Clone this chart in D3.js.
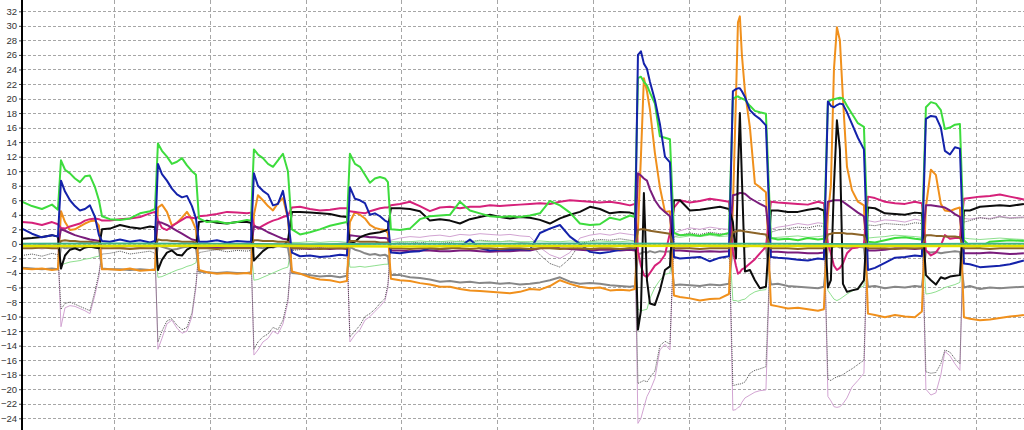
<!DOCTYPE html>
<html><head><meta charset="utf-8">
<script src="https://cdn.jsdelivr.net/npm/d3@7"></script>
<style>html,body{margin:0;padding:0;background:#fff;overflow:hidden}svg{display:block}</style>
</head><body>
<svg id="chart" width="1024" height="430"></svg>
<script>
// time (s)
const T = [
 0.40,1.44,2.48,3.53,4.15,
 4.47,4.89,5.41,5.93,6.45,6.97,7.49,8.02,8.43,8.75,
 9.58,10.63,11.67,12.72,13.76,14.28,
 14.59,15.01,15.53,16.05,16.58,17.10,17.62,18.14,18.56,18.87,
 19.71,20.75,21.80,22.84,23.89,24.30,
 24.61,25.03,25.55,26.08,26.60,27.12,27.64,28.16,28.58,
 29.42,30.46,31.50,32.55,33.59,34.32,
 34.63,35.16,35.68,36.20,36.72,37.24,37.77,38.29,38.60,38.91,
 39.85,40.90,41.94,42.98,44.03,45.07,46.12,47.16,48.20,49.25,50.29,51.34,52.38,53.42,54.47,55.51,56.56,57.60,58.64,59.69,60.73,61.78,62.82,63.86,64.38,
 64.70,65.01,65.32,65.64,65.95,66.47,66.99,67.52,68.04,68.46,
 69.08,70.13,71.17,72.21,73.26,74.20,
 74.61,74.93,75.14,75.34,75.55,75.87,76.39,76.91,77.43,78.06,78.58,
 79.31,80.35,81.40,82.44,83.49,84.11,
 84.53,84.84,85.16,85.47,85.78,86.10,86.52,87.04,87.66,88.29,88.71,
 89.44,90.48,91.53,92.57,93.61,94.34,
 94.76,95.28,95.80,96.32,96.74,97.27,97.79,98.31,98.73,
 99.35,100.40,101.44,102.48,103.53,104.99
];
const green = [
 5.8,5.2,4.8,5.4,4.7,
 11.5,10.2,9.7,9.0,8.5,9.3,9.4,7.8,6.0,3.8,
 3.4,3.3,3.5,4.2,4.5,4.8,
 13.8,12.8,12.0,11.0,11.3,11.8,10.8,10.0,9.5,3.5,
 3.0,3.1,2.8,3.0,3.3,3.2,
 13.0,12.3,11.8,11.0,10.6,11.5,12.4,10.0,2.0,
 1.3,1.6,2.0,2.5,2.8,3.0,
 12.4,11.0,10.6,9.5,8.4,9.0,9.2,9.0,8.5,2.0,
 1.9,2.1,3.4,3.8,3.9,4.0,5.8,4.6,4.2,3.8,3.7,3.8,3.7,3.9,4.2,5.9,5.3,4.3,2.8,2.6,2.7,3.6,3.3,3.9,3.7,
 22.8,23.0,22.3,21.8,20.8,19.3,14.8,14.6,14.4,1.5,
 1.2,1.3,1.1,1.4,1.2,1.5,
 20.0,20.2,20.3,20.1,20.0,19.8,19.0,18.3,18.1,17.9,0.8,
 0.6,0.7,0.5,0.8,0.6,0.7,
 19.5,19.8,19.9,20.0,20.1,20.0,19.0,17.9,16.6,16.1,0.3,
 0.2,0.5,0.8,0.9,0.7,0.6,
 18.8,19.5,19.3,18.4,15.8,16.0,16.4,16.5,0.5,
 -0.3,-0.4,0.3,0.4,0.5,0.4
];
const blue = [
 2.1,1.4,0.9,1.2,1.0,
 8.7,7.2,6.0,5.2,4.6,4.8,5.3,3.7,1.2,0.4,
 0.3,0.6,0.3,0.5,0.2,0.4,
 11.0,9.6,8.7,7.6,6.8,6.4,6.6,5.2,3.5,0.3,
 0.3,0.5,0.2,0.4,0.3,0.3,
 9.7,8.0,7.3,6.8,5.3,5.5,7.3,3.6,-1.2,
 -1.7,-1.6,-1.8,-1.7,-1.5,-1.6,
 7.8,6.2,6.0,5.6,4.0,4.2,3.8,3.2,3.0,-1.2,
 -1.3,-1.1,-1.0,-0.6,-0.7,-0.6,-0.4,0.6,-0.6,-0.9,-0.8,-0.8,-0.7,-0.8,1.5,2.1,2.6,1.0,0.0,-1.1,-1.3,-1.1,-0.8,-0.6,-0.7,
 26.0,26.5,24.8,24.1,22.3,19.8,16.5,12.0,11.2,-1.8,
 -2.0,-1.9,-1.8,-2.4,-1.9,-1.7,
 21.0,21.3,21.4,21.4,21.0,20.2,18.4,17.7,17.2,16.3,-1.8,
 -1.9,-2.0,-2.2,-2.3,-2.0,-2.1,
 19.6,19.0,18.8,19.1,19.3,19.2,18.1,16.5,14.6,13.0,-3.6,
 -3.3,-2.6,-1.9,-1.8,-1.6,-1.7,
 17.2,17.6,17.5,16.0,12.8,12.3,13.3,13.1,-2.7,
 -2.8,-3.2,-3.1,-3.0,-2.8,-2.3
];
const orange = [
 -3.4,-3.5,-3.4,-3.6,-3.5,
 4.5,3.0,1.9,2.0,2.4,2.8,3.1,3.2,2.5,-3.5,
 -3.5,-3.6,-3.4,-3.7,-3.6,-3.6,
 5.0,5.4,4.4,2.5,2.9,3.6,4.4,3.3,2.0,-3.6,
 -3.9,-4.1,-4.0,-4.1,-4.0,-4.1,
 4.0,6.7,6.0,5.2,4.6,5.6,6.3,3.5,-3.8,
 -4.1,-4.6,-4.9,-5.0,-5.3,-5.1,
 3.0,4.4,4.0,3.5,2.6,2.2,2.0,1.9,1.5,-4.8,
 -5.0,-5.1,-5.4,-5.6,-5.9,-5.9,-6.2,-6.4,-6.5,-6.6,-6.7,-6.8,-6.6,-6.2,-6.3,-5.8,-5.0,-5.5,-5.9,-6.1,-6.0,-6.4,-6.3,-6.4,-6.2,
 2.0,12.0,22.8,21.0,18.5,12.5,7.8,4.4,4.5,-7.1,
 -7.3,-7.5,-7.8,-7.6,-7.5,-6.9,
 5.0,20.0,30.5,31.3,26.0,21.0,16.0,8.3,7.8,7.1,-8.4,
 -8.6,-8.9,-8.8,-9.0,-9.2,-9.0,
 4.0,8.0,24.0,29.8,28.0,20.0,10.6,7.4,5.8,5.3,-9.6,
 -9.8,-10.1,-9.8,-10.0,-10.1,-9.3,
 5.1,10.2,9.5,5.5,4.6,4.5,4.8,5.0,-10.1,
 -10.3,-10.5,-10.4,-10.2,-10.0,-9.8
];
const magenta = [
 3.0,2.9,2.6,3.0,2.7,
 2.2,2.1,2.4,2.6,2.8,3.2,3.4,3.5,3.4,3.2,
 3.2,3.4,3.5,3.7,4.2,4.4,
 3.3,2.2,1.9,2.4,2.9,3.3,3.7,3.6,3.5,3.8,
 3.9,4.1,4.4,4.3,4.2,4.3,
 2.6,2.1,2.5,2.9,3.2,3.4,3.7,3.9,5.0,
 5.1,4.8,4.6,4.7,4.9,4.9,
 4.5,4.4,4.3,4.2,4.5,4.7,4.9,5.0,5.0,5.3,
 5.5,5.8,5.2,4.5,5.0,5.1,4.9,5.1,5.1,5.3,5.2,5.3,5.4,5.5,5.6,5.5,5.8,6.0,5.9,5.8,5.7,5.8,5.6,5.3,5.5,
 -1.0,-3.0,-4.3,-4.6,-4.0,-3.0,-2.5,-1.5,1.5,5.0,
 6.0,5.7,5.9,6.2,6.0,5.8,
 -1.0,-3.0,-4.1,-3.9,-3.5,-3.3,-2.7,-2.1,-1.3,-0.4,5.8,
 5.7,5.6,5.5,5.4,5.8,5.6,
 0.0,-1.3,-3.0,-3.6,-3.3,-2.7,-1.3,-0.6,-0.5,0.0,6.5,
 6.3,5.8,5.6,5.5,5.8,5.6,
 -0.9,-1.6,-1.2,-0.2,1.2,0.7,0.8,0.8,6.2,
 6.3,6.5,6.6,6.8,6.5,6.1
];
const black = [
 0.7,0.8,0.95,1.2,1.0,
 -3.4,-1.6,-0.8,-0.6,-0.9,-0.5,-0.4,-0.5,-0.6,2.0,
 2.1,2.6,2.3,2.1,2.4,2.3,
 -3.6,-2.2,-1.2,-0.9,-1.5,-1.6,-0.8,-0.4,-0.6,3.0,
 3.2,2.9,2.8,3.0,3.0,2.9,
 -2.3,-1.7,-1.0,-0.5,-0.4,-0.2,-0.3,0.4,4.4,
 4.4,4.3,4.2,4.1,3.8,3.7,
 0.0,0.3,0.9,1.2,1.4,1.5,1.6,1.8,2.0,4.9,
 4.9,4.8,4.5,3.2,3.4,3.2,2.8,3.4,3.7,4.0,3.7,3.5,3.7,3.6,3.3,2.8,3.5,4.0,4.4,5.1,4.8,4.2,4.4,4.3,4.1,
 -11.8,-9.2,7.0,-5.0,-8.2,-8.4,-6.4,-3.6,-3.1,6.0,
 6.0,4.6,4.7,4.9,5.1,4.8,
 3.0,-2.0,10.0,18.0,9.0,-3.8,-3.6,-5.0,-6.1,-5.9,4.6,
 4.6,4.4,4.4,4.7,4.9,4.6,
 -6.0,-5.0,8.0,17.0,13.0,-5.5,-6.6,-6.4,-6.2,-5.0,5.0,
 4.9,4.2,4.1,4.0,4.3,4.2,
 -4.3,-5.0,-5.6,-4.6,-4.8,-4.5,-4.4,-4.3,4.6,
 4.6,5.1,5.2,5.3,5.2,5.5
];
const purple = [
 -0.2,-0.3,-0.2,-0.3,-0.2,
 2.0,1.8,1.5,1.2,1.0,0.8,0.6,0.5,0.4,-0.3,
 -0.3,-0.4,-0.3,-0.4,-0.3,-0.4,
 3.0,2.9,2.6,2.2,1.8,1.4,1.0,0.6,0.5,-0.4,
 -0.4,-0.5,-0.4,-0.5,-0.4,-0.5,
 2.4,2.3,2.0,1.6,1.3,1.0,0.7,0.6,-0.6,
 -0.6,-0.7,-0.6,-0.7,-0.6,-0.7,
 1.2,1.1,1.0,1.0,0.9,0.9,0.8,0.8,0.7,-0.9,
 -0.9,-1.0,-0.9,-0.9,-1.0,-1.0,-0.9,-0.9,-1.0,-1.1,-1.0,-1.0,-0.9,-0.9,-0.6,-0.4,-0.6,-0.7,-0.8,-0.9,-0.8,-0.8,-0.9,-0.8,-0.9,
 9.7,9.4,9.0,8.7,7.5,6.0,5.0,4.4,3.8,-0.9,
 -0.9,-1.0,-1.1,-1.0,-1.1,-1.0,
 6.7,6.8,6.9,7.0,7.0,6.9,6.3,5.9,5.5,5.1,-1.1,
 -1.1,-1.2,-1.2,-1.3,-1.3,-1.2,
 5.8,5.9,6.0,6.0,6.0,5.8,5.4,4.9,4.3,3.8,-0.9,
 -0.9,-0.8,-0.6,-0.6,-0.7,-0.6,
 5.3,5.3,5.2,5.1,5.0,4.6,4.1,3.7,-1.3,
 -1.3,-1.3,-1.2,-1.3,-1.4,-1.3
];
const gray = [
 -3.3,-3.4,-3.5,-3.4,-3.5,
 -0.4,-0.6,-0.5,-0.6,-0.4,-0.5,-0.3,-0.5,-0.6,-3.4,
 -3.5,-3.5,-3.6,-3.5,-3.6,-3.5,
 -0.2,-0.4,-0.6,-0.8,-0.7,-0.5,-0.4,-0.3,-0.5,-3.8,
 -3.9,-4.0,-3.9,-4.0,-4.0,-3.9,
 -0.2,-0.5,-0.6,-0.4,-0.5,-0.3,-0.4,-0.5,-4.0,
 -4.1,-4.3,-4.5,-4.4,-4.6,-4.4,
 -0.4,-0.8,-1.0,-1.3,-1.5,-1.4,-1.6,-1.5,-1.7,-4.3,
 -4.3,-4.6,-4.7,-4.9,-5.2,-5.1,-5.3,-5.2,-5.4,-5.3,-5.5,-5.4,-5.6,-5.5,-5.3,-5.0,-4.6,-5.2,-5.5,-5.4,-5.5,-5.7,-5.8,-5.9,-5.8,
 -1.5,-1.3,-1.1,-1.2,-1.0,-1.2,-1.0,-1.1,-1.0,-5.7,
 -5.6,-5.7,-5.8,-5.6,-5.7,-5.5,
 -0.3,-0.2,-0.3,-0.2,-0.3,-0.4,-0.3,-0.2,-0.3,-0.4,-5.6,
 -5.5,-5.8,-5.9,-6.0,-6.1,-5.9,
 -0.3,-0.5,-0.4,-0.3,-0.5,-0.4,-0.6,-0.5,-0.4,-0.5,-5.9,
 -5.8,-6.1,-5.9,-6.0,-5.8,-5.9,
 -1.0,-1.2,-1.1,-1.3,-1.2,-1.1,-1.0,-1.1,-6.0,
 -5.8,-6.2,-6.0,-6.1,-6.0,-5.9
];
const palePink = [
 -0.6,-0.5,-0.7,-0.5,-0.6,
 -11.4,-8.8,-8.5,-8.6,-8.9,-9.2,-9.6,-7.0,-4.5,-0.5,
 -0.4,-0.6,-0.3,-0.5,-0.4,-0.5,
 -14.5,-13.0,-11.0,-10.5,-11.6,-12.3,-12.0,-10.0,-6.0,-0.4,
 -0.5,-0.3,-0.6,-0.4,-0.5,-0.4,
 -15.3,-14.6,-13.5,-13.0,-12.0,-12.4,-11.0,-8.0,-0.5,
 -0.4,-0.3,-0.2,-0.1,0.1,0.2,
 -13.5,-12.5,-11.8,-10.5,-10.0,-9.3,-8.6,-7.8,-6.0,0.5,
 0.8,1.0,0.9,1.1,1.2,1.0,1.3,1.2,1.4,1.3,1.2,1.3,1.1,1.0,-0.5,-1.5,-2.0,-1.2,0.8,1.2,1.4,1.2,1.5,1.3,1.2,
 -24.7,-24.0,-22.5,-21.0,-20.2,-18.5,-14.6,-13.8,-14.6,1.5,
 1.8,2.2,2.0,2.3,2.1,2.0,
 -22.9,-22.8,-22.5,-22.4,-21.8,-21.2,-20.8,-20.4,-20.2,-20.1,2.0,
 2.3,2.5,2.8,2.6,2.9,2.8,
 -21.0,-21.6,-22.4,-22.5,-22.4,-22.0,-21.2,-19.7,-18.8,-17.8,3.2,
 3.0,3.3,3.2,3.0,3.4,3.2,
 -20.0,-20.8,-20.5,-18.0,-14.8,-15.4,-16.5,-17.4,3.5,
 3.4,3.6,3.5,3.8,3.6,3.7
];
const darkDotted = [
 -1.6,-1.4,-1.7,-1.3,-1.5,
 -9.0,-8.2,-8.0,-8.3,-8.6,-8.9,-9.2,-6.5,-4.0,-1.4,
 -1.3,-1.0,-1.4,-1.2,-1.0,-1.3,
 -13.5,-12.0,-10.6,-10.3,-11.2,-11.8,-11.5,-9.5,-5.5,-1.2,
 -1.0,-0.8,-1.1,-0.9,-1.0,-0.9,
 -14.5,-13.5,-12.8,-12.4,-11.5,-11.8,-10.5,-7.5,-0.9,
 -0.8,-0.6,-0.5,-0.4,-0.3,-0.2,
 -12.8,-12.0,-11.2,-10.0,-9.6,-9.0,-8.2,-7.5,-5.5,0.0,
 0.2,0.3,0.1,0.4,0.3,0.2,0.4,0.3,0.5,0.4,0.3,0.4,0.2,0.1,-1.5,-2.7,-3.2,-2.0,0.0,0.4,0.6,0.5,0.7,0.5,0.4,
 -19.2,-19.0,-18.8,-19.0,-18.4,-17.5,-14.0,-13.4,-13.8,1.0,
 1.2,1.5,1.3,1.6,1.4,1.3,
 -19.5,-19.4,-19.3,-19.3,-19.2,-19.0,-17.8,-17.4,-17.2,-16.9,1.6,
 1.9,2.1,2.3,2.2,2.5,2.4,
 -18.6,-18.8,-18.5,-18.3,-18.2,-18.0,-17.6,-17.2,-16.6,-16.0,2.6,
 2.5,2.8,2.7,2.6,2.9,2.8,
 -17.6,-17.8,-17.7,-16.5,-14.6,-14.9,-15.8,-16.5,3.0,
 3.2,3.6,3.4,3.7,3.5,3.6
];
const lightGreen = [
 -0.4,-0.3,-0.4,-0.3,-0.4,
 -2.9,-2.7,-2.5,-2.4,-2.3,-2.1,-2.0,-1.8,-1.7,-0.3,
 -0.3,-0.2,-0.3,-0.2,-0.3,-0.2,
 -4.6,-4.5,-4.2,-3.9,-3.6,-3.4,-3.1,-2.9,-2.6,-0.2,
 -0.2,-0.3,-0.2,-0.3,-0.2,-0.3,
 -5.0,-4.9,-4.6,-4.3,-4.0,-3.7,-3.4,-3.2,0.2,
 0.2,0.3,0.2,0.3,0.3,0.2,
 -3.2,-3.2,-3.1,-3.2,-3.1,-3.0,-2.9,-2.8,-2.8,0.3,
 0.3,0.3,0.4,0.3,0.3,0.4,0.3,0.3,0.4,0.3,0.3,0.4,0.3,0.3,0.4,0.3,0.3,0.4,0.3,0.3,0.4,0.3,0.3,0.4,0.3,
 -9.0,-9.2,-9.1,-9.0,-7.5,-6.0,-5.0,-4.2,-4.0,1.0,
 0.9,1.1,1.0,1.2,1.0,1.1,
 -7.8,-7.8,-7.9,-7.8,-7.7,-7.6,-7.0,-6.6,-6.4,-6.3,0.8,
 0.9,1.0,1.1,0.9,1.0,1.1,
 -6.4,-7.0,-7.6,-7.8,-7.6,-7.3,-6.9,-6.5,-6.1,-5.8,0.8,
 0.9,1.0,1.2,1.1,1.0,0.9,
 -6.9,-6.8,-6.6,-6.3,-6.0,-5.8,-5.6,-5.3,0.8,
 0.7,0.6,0.7,0.8,0.7,0.6
];
const brown = [
 -0.6,-0.6,-0.5,-0.6,-0.6,
 0.4,0.5,0.4,0.4,0.3,0.3,0.3,0.2,0.2,-0.6,
 -0.6,-0.6,-0.7,-0.6,-0.6,-0.6,
 0.6,0.5,0.5,0.4,0.4,0.3,0.3,0.3,0.2,-0.6,
 -0.6,-0.7,-0.6,-0.6,-0.6,-0.6,
 0.5,0.5,0.4,0.4,0.4,0.3,0.3,0.3,-0.6,
 -0.6,-0.6,-0.7,-0.6,-0.6,-0.6,
 0.4,0.4,0.3,0.3,0.3,0.3,0.2,0.2,0.2,-0.6,
 -0.6,-0.7,-0.6,-0.6,-0.7,-0.6,-0.6,-0.7,-0.6,-0.6,-0.7,-0.6,-0.6,-0.7,-0.6,-0.6,-0.7,-0.6,-0.6,-0.7,-0.6,-0.6,-0.7,-0.6,-0.6,
 1.9,2.0,2.0,1.9,1.8,1.7,1.6,1.5,1.4,-0.6,
 -0.6,-0.6,-0.7,-0.6,-0.6,-0.6,
 1.6,1.7,1.8,1.8,1.8,1.7,1.6,1.5,1.4,1.3,-0.6,
 -0.6,-0.6,-0.7,-0.6,-0.6,-0.6,
 1.3,1.4,1.5,1.5,1.5,1.5,1.4,1.4,1.3,1.2,-0.6,
 -0.6,-0.6,-0.7,-0.6,-0.6,-0.6,
 1.2,1.2,1.1,1.1,1.0,1.0,1.0,0.9,-0.6,
 -0.6,-0.6,-0.7,-0.6,-0.6,-0.6
];
const tFlat = [0.4, 10, 20, 30, 40, 50, 60, 70, 80, 90, 100, 105];
const yellowVals = [-0.3, -0.3, -0.25, -0.3, -0.35, -0.3, -0.3, -0.25, -0.3, -0.3, -0.3, -0.3];
const tealVals = [0.0, 0.05, 0.0, -0.05, 0.0, 0.0, 0.05, 0.0, 0.0, -0.05, 0.0, 0.0];
const yTicks = d3.range(-24, 33, 2);
const xGrid = d3.range(10, 101, 10);

const W = 1024, H = 430;
const svg = d3.select('#chart');
const x = d3.scaleLinear().domain([0.4, 105]).range([22, 1024]);
const y = d3.scaleLinear().domain([-24, 32]).range([418.3, 11.3]);

svg.append('rect').attr('width', W).attr('height', H).attr('fill', '#fff');
svg.append('defs').append('clipPath').attr('id', 'clip')
  .append('rect').attr('x', 22).attr('y', 0).attr('width', W - 22).attr('height', H);

// grid
const grid = svg.append('g');
grid.selectAll('line.h').data(yTicks).join('line')
  .attr('x1', 23).attr('x2', W)
  .attr('y1', d => Math.round(y(d)) + 0.5).attr('y2', d => Math.round(y(d)) + 0.5)
  .attr('stroke', '#a6a6a6').attr('stroke-width', 1).attr('stroke-dasharray', '3,2');
grid.selectAll('line.v').data(xGrid).join('line')
  .attr('x1', d => Math.round(x(d)) + 0.5).attr('x2', d => Math.round(x(d)) + 0.5)
  .attr('y1', 0).attr('y2', H)
  .attr('stroke', '#a6a6a6').attr('stroke-width', 1).attr('stroke-dasharray', '4,3');

const series = [
  {v: palePink, c: '#d2a4d2', w: 1},
  {v: darkDotted, c: '#505050', w: 1, dash: '1,1'},
  {v: lightGreen, c: '#8fe08f', w: 1},
  {v: gray, c: '#878787', w: 2},
  {v: orange, c: '#f0901c', w: 2},
  {v: magenta, c: '#d6217a', w: 2},
  {v: purple, c: '#7a1c7c', w: 2},
  {v: black, c: '#0c0c0c', w: 2},
  {v: green, c: '#3ddc3d', w: 2},
  {v: blue, c: '#1422aa', w: 2},
  {v: brown, c: '#8c6428', w: 2},
];
const plot = svg.append('g').attr('clip-path', 'url(#clip)');
const line = d3.line().x((d, i) => x(T[i])).y(d => y(d));
series.forEach(s => {
  plot.append('path').datum(s.v)
    .attr('d', line)
    .attr('fill', 'none').attr('stroke', s.c).attr('stroke-width', s.w)
    .attr('stroke-linejoin', 'round')
    .attr('stroke-dasharray', s.dash || null);
});
const flatLine = d3.line().x((d, i) => x(tFlat[i])).y(d => y(d));
plot.append('path').datum(tealVals).attr('d', flatLine)
  .attr('fill', 'none').attr('stroke', '#3cb48c').attr('stroke-width', 2);
plot.append('path').datum(yellowVals).attr('d', flatLine)
  .attr('fill', 'none').attr('stroke', '#e2e200').attr('stroke-width', 2.5);

// axis
const axis = svg.append('g').attr('transform', 'translate(22,0)')
  .call(d3.axisLeft(y).tickValues(yTicks).tickSize(3).tickPadding(2).tickFormat(d3.format('d')));
axis.select('.domain').remove();
axis.selectAll('.tick line').attr('stroke', '#444');
axis.selectAll('.tick text').attr('fill', '#333')
  .style('font-family', '"Liberation Sans", Arial, sans-serif').style('font-size', '9.5px');
svg.append('line').attr('x1', 22).attr('x2', 22).attr('y1', 0).attr('y2', H)
  .attr('stroke', '#000').attr('stroke-width', 2);
</script>
</body></html>
